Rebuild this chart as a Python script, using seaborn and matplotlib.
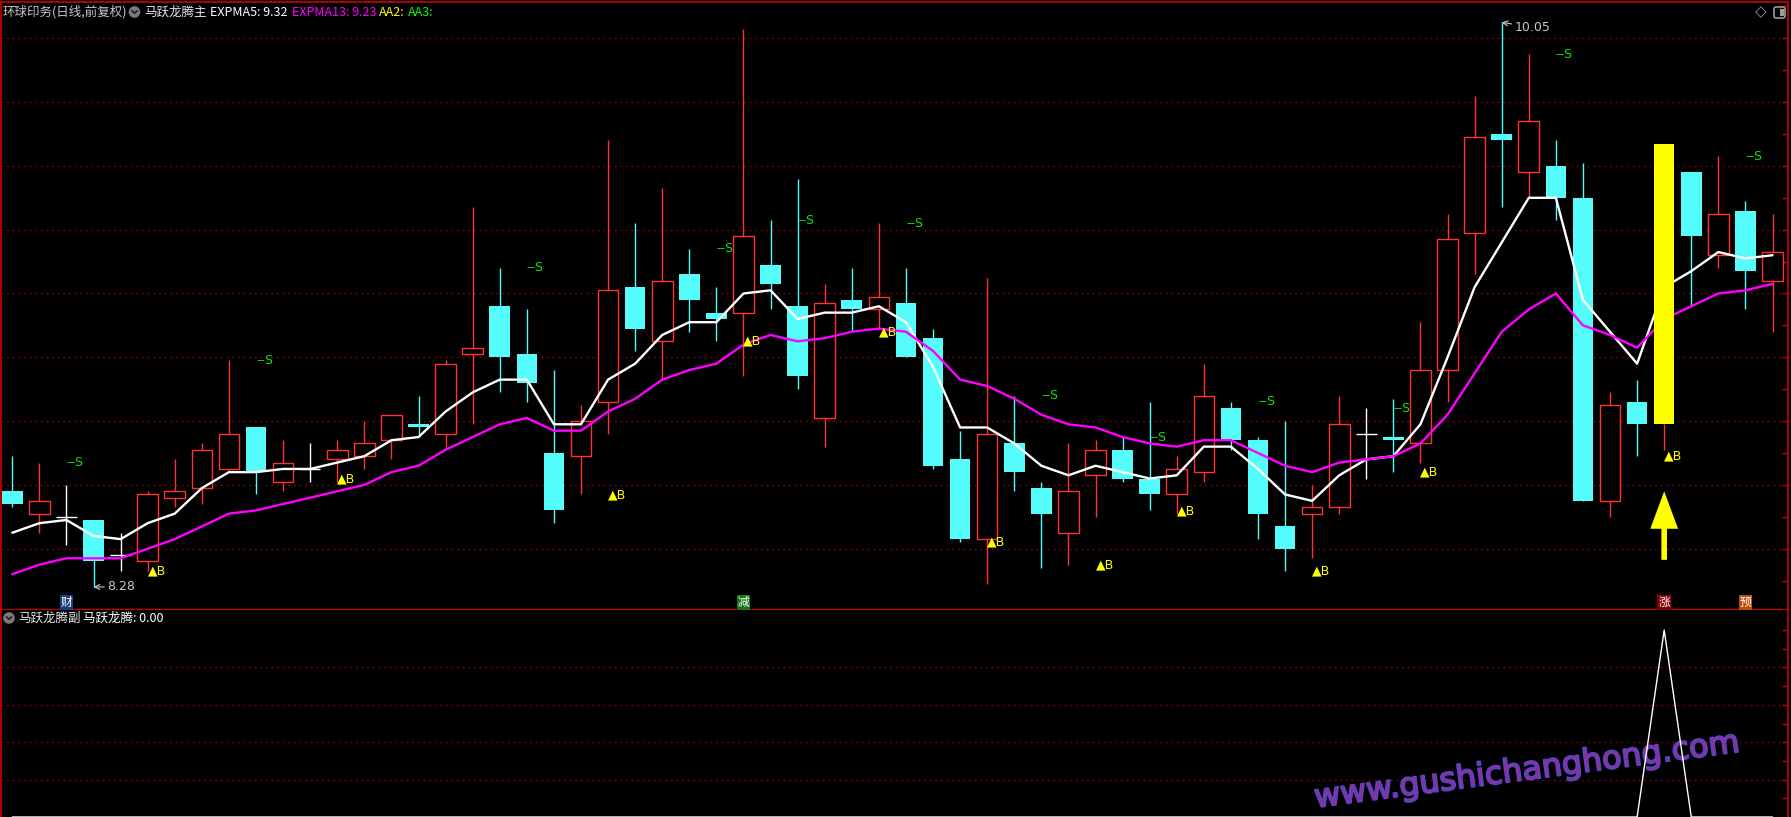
import numpy as np
import pandas as pd
import matplotlib.pyplot as plt
import matplotlib.patheffects as pe
import matplotlib.transforms as mtransforms
from matplotlib.patches import Circle, FancyBboxPatch, Rectangle
from matplotlib.lines import Line2D
import seaborn as sns

# 日线数据
open_ = [8.58, 8.51, 8.50, 8.49, 8.38, 8.36, 8.56, 8.59, 8.65, 8.78,
         8.61, 8.65, 8.68, 8.69, 8.74, 8.79, 8.76, 9.01, 9.16, 9.01,
         8.70, 8.69, 8.86, 9.22, 9.05, 9.26, 9.14, 9.14, 9.29, 9.16,
         8.81, 9.18, 9.15, 9.17, 9.06, 8.68, 8.43, 8.73, 8.59, 8.45,
         8.63, 8.71, 8.62, 8.57, 8.64, 8.84, 8.74, 8.47, 8.51, 8.53,
         8.76, 8.75, 8.73, 8.96, 9.39, 9.70, 9.58, 9.60, 9.50, 8.55,
         8.86, 8.79, 9.58, 9.32, 9.46, 9.24]
close = [8.54, 8.55, 8.50, 8.36, 8.38, 8.57, 8.58, 8.71, 8.76, 8.64,
         8.67, 8.65, 8.71, 8.73, 8.82, 8.78, 8.98, 9.03, 9.00, 8.92,
         8.52, 8.80, 9.21, 9.09, 9.24, 9.18, 9.12, 9.38, 9.23, 8.94,
         9.17, 9.15, 9.19, 9.00, 8.66, 8.43, 8.76, 8.64, 8.51, 8.58,
         8.71, 8.62, 8.57, 8.65, 8.88, 8.74, 8.51, 8.40, 8.53, 8.79,
         8.76, 8.74, 8.96, 9.37, 9.69, 9.68, 9.74, 9.50, 8.55, 8.85,
         8.79, 9.67, 9.38, 9.45, 9.27, 9.33]
high = [8.69, 8.67, 8.60, 8.49, 8.45, 8.58, 8.68, 8.73, 8.99, 8.78,
        8.74, 8.73, 8.74, 8.80, 8.82, 8.88, 8.99, 9.47, 9.28, 9.15,
        8.96, 8.85, 9.68, 9.42, 9.53, 9.34, 9.22, 10.03, 9.43, 9.56,
        9.23, 9.28, 9.42, 9.28, 9.09, 8.77, 9.25, 8.88, 8.61, 8.73,
        8.74, 8.75, 8.86, 8.69, 8.98, 8.86, 8.75, 8.80, 8.60, 8.88,
        8.84, 8.87, 9.11, 9.45, 9.82, 10.05, 9.95, 9.68, 9.61, 8.89,
        8.93, 9.67, 9.58, 9.63, 9.49, 9.45]
low = [8.53, 8.45, 8.41, 8.28, 8.33, 8.33, 8.53, 8.54, 8.64, 8.57,
       8.58, 8.61, 8.61, 8.65, 8.68, 8.75, 8.72, 8.79, 8.89, 8.86,
       8.48, 8.57, 8.76, 9.02, 8.93, 9.08, 9.05, 8.94, 9.15, 8.90,
       8.72, 9.08, 9.09, 9.00, 8.65, 8.42, 8.29, 8.58, 8.34, 8.35,
       8.50, 8.61, 8.52, 8.51, 8.61, 8.71, 8.43, 8.33, 8.37, 8.51,
       8.62, 8.64, 8.67, 8.86, 9.26, 9.47, 9.50, 9.43, 8.55, 8.50,
       8.69, 8.71, 9.16, 9.28, 9.15, 9.08]
expma5 = [8.45, 8.48, 8.49, 8.44, 8.43, 8.48, 8.51, 8.59, 8.64, 8.64,
          8.65, 8.65, 8.67, 8.69, 8.74, 8.75, 8.83, 8.89, 8.93, 8.93,
          8.79, 8.79, 8.93, 8.98, 9.07, 9.11, 9.11, 9.20, 9.21, 9.12,
          9.14, 9.14, 9.16, 9.11, 8.97, 8.78, 8.78, 8.73, 8.66, 8.63,
          8.66, 8.64, 8.62, 8.63, 8.72, 8.72, 8.65, 8.57, 8.55, 8.63,
          8.68, 8.69, 8.79, 9.00, 9.22, 9.36, 9.50, 9.50, 9.18, 9.08,
          8.98, 9.22, 9.27, 9.33, 9.31, 9.32]
expma13 = [8.32, 8.35, 8.37, 8.37, 8.37, 8.40, 8.43, 8.47, 8.51, 8.52,
           8.54, 8.56, 8.58, 8.60, 8.64, 8.66, 8.71, 8.75, 8.79, 8.81,
           8.77, 8.77, 8.83, 8.87, 8.93, 8.96, 8.98, 9.04, 9.07, 9.05,
           9.06, 9.08, 9.09, 9.08, 9.02, 8.93, 8.91, 8.87, 8.82, 8.79,
           8.78, 8.75, 8.73, 8.72, 8.74, 8.74, 8.70, 8.66, 8.64, 8.67,
           8.68, 8.69, 8.73, 8.82, 8.95, 9.08, 9.15, 9.20, 9.10, 9.07,
           9.03, 9.12, 9.16, 9.20, 9.21, 9.23]

# 买卖信号
b_idx = [5, 12, 22, 27, 32, 36, 40, 43, 48, 52, 61]
b_price = [8.33, 8.62, 8.57, 9.05, 9.08, 8.42, 8.35, 8.52, 8.33, 8.64, 8.69]
s_idx = [2, 9, 19, 26, 29, 33, 38, 42, 46, 51, 57, 64]
s_price = [8.67, 8.99, 9.28, 9.34, 9.43, 9.42, 8.88, 8.75, 8.86, 8.84, 9.95, 9.63]

# 底部标记
mark_idx = [2, 27, 61, 64]
mark_txt = ["财", "减", "涨", "预"]
mark_bg = ["#163f7c", "#18761a", "#8a0000", "#bf4a06"]

# 副图 马跃龙腾
myld = [0, 0, 0, 0, 0, 0, 0, 0, 0, 0,
        0, 0, 0, 0, 0, 0, 0, 0, 0, 0,
        0, 0, 0, 0, 0, 0, 0, 0, 0, 0,
        0, 0, 0, 0, 0, 0, 0, 0, 0, 0,
        0, 0, 0, 0, 0, 0, 0, 0, 0, 0,
        0, 0, 0, 0, 0, 0, 0, 0, 0, 0,
        0, 1, 0, 0, 0, 0]

sns.set_theme(style="dark", rc={"axes.facecolor": "black", "figure.facecolor": "black",
                                "axes.grid": False})
plt.rcParams['font.family'] = ['Noto Sans CJK SC', 'DejaVu Sans']
plt.rcParams['axes.unicode_minus'] = False

W, H = 1791, 817
fig = plt.figure(figsize=(W / 100, H / 100), dpi=100)
ax = fig.add_axes([1 / W, 1 - 610 / H, 1787 / W, 608 / H])
ax2 = fig.add_axes([1 / W, 0, 1787 / W, 207 / H])


def px(x, y):
    return x / W, 1 - y / H


df = pd.DataFrame({"o": open_, "h": high, "l": low, "c": close,
                   "e5": expma5, "e13": expma13, "v": myld})
df["i"] = np.arange(len(df))

RED = "#ff3232"
CYAN = "#54fcfc"
YEL = "#ffff00"
GRID = "#8b0000"
BORDER = "#cc0000"
bw = 0.76
sig = mark_idx[mark_txt.index("涨")]

for i, r in df.iterrows():
    top, bot = max(r.o, r.c), min(r.o, r.c)
    if i == sig:
        ax.vlines(i, r.l, bot, color=RED, lw=1, zorder=2)
        ax.bar(i, top - bot, bottom=bot, width=bw, color=YEL, lw=0, zorder=6)
    elif r.c > r.o:
        ax.vlines(i, top, r.h, color=RED, lw=1, zorder=2)
        ax.vlines(i, r.l, bot, color=RED, lw=1, zorder=2)
        ax.bar(i, top - bot, bottom=bot, width=bw, facecolor="black",
               edgecolor=RED, lw=1, zorder=2)
    elif r.c < r.o:
        ax.vlines(i, r.l, r.h, color=CYAN, lw=1, zorder=2)
        ax.bar(i, top - bot, bottom=bot, width=bw, color=CYAN, lw=0, zorder=2)
    else:
        ax.vlines(i, r.l, r.h, color="white", lw=1, zorder=2)
        ax.hlines(r.c, i - bw / 2, i + bw / 2, color="white", lw=1, zorder=2)

sns.lineplot(data=df, x="i", y="e5", ax=ax, color="white", lw=1.7, zorder=4)
sns.lineplot(data=df, x="i", y="e13", ax=ax, color="#ff00ff", lw=1.7, zorder=4)

for i, p in zip(b_idx, b_price):
    ax.text(i, p, "▲B", color=YEL, fontsize=9, ha="left", va="center",
            family="DejaVu Sans", zorder=7)
for i, p in zip(s_idx, s_price):
    ax.text(i, p, "--S", color="#10e010", fontsize=9, ha="left", va="center",
            family="DejaVu Sans", zorder=7)

# 最高最低价
hi = int(np.argmax(high))
lo = int(np.argmin(low))
ax.annotate(f"{high[hi]:.2f}", xy=(hi, high[hi]), xytext=(13, -5), textcoords="offset pixels",
            color="#c8c8c8", fontsize=9, ha="left", va="center", family="DejaVu Sans",
            arrowprops=dict(arrowstyle="->", color="#c8c8c8", lw=0.8, shrinkA=0, shrinkB=0))
ax.annotate(f"{low[lo]:.2f}", xy=(lo, low[lo]), xytext=(14, 0), textcoords="offset pixels",
            color="#c8c8c8", fontsize=9, ha="left", va="center", family="DejaVu Sans",
            arrowprops=dict(arrowstyle="->", color="#c8c8c8", lw=0.8, shrinkA=0, shrinkB=0))

# 黄色箭头
ax.annotate("", xy=(sig, low[sig] - 0.13), xytext=(sig, low[sig] - 0.345),
            arrowprops=dict(arrowstyle="simple,head_length=1.35,head_width=1.0,tail_width=0.2",
                            fc=YEL, ec=YEL, lw=0, mutation_scale=20, shrinkA=0, shrinkB=0),
            zorder=7)

trans = mtransforms.blended_transform_factory(ax.transData, ax.transAxes)
for i, t, bg in zip(mark_idx, mark_txt, mark_bg):
    ax.text(i, 0.0125, t, transform=trans, color="white", fontsize=8.5,
            ha="center", va="center", zorder=8,
            bbox=dict(boxstyle="square,pad=0.08", fc=bg, ec="none"))

ax.set_xlim(-0.4173, 65.572)
ax.set_ylim(8.2078, 10.1138)
for g in np.arange(8.4, 10.01, 0.2):
    ax.axhline(g, color=GRID, lw=0.9, ls=(0, (1.5, 3)), zorder=1)

# 副图
sns.lineplot(data=df, x="i", y="v", ax=ax2, color="white", lw=1, zorder=4)
ax2.set_xlim(-0.4173, 65.572)
ax2.set_ylim(0, 1.107)
for g in [0.2, 0.4, 0.6, 0.8]:
    ax2.axhline(g, color=GRID, lw=0.9, ls=(0, (1.5, 3)), zorder=1)
ax2.text(0.854, 0.222, "www.gushichanghong.com", transform=ax2.transAxes,
         rotation=7.5, rotation_mode="anchor", ha="center", va="center",
         fontsize=23, color="#86329f", family="DejaVu Sans", zorder=2,
         path_effects=[pe.withStroke(linewidth=1.4, foreground="#4a4ad6")])

for a, yt in ((ax, np.arange(8.3, 10.11, 0.1)), (ax2, np.arange(0.1, 1.01, 0.1))):
    a.set_xlabel("")
    a.set_ylabel("")
    a.set_xticks([])
    a.yaxis.tick_right()
    a.set_yticks(yt)
    a.tick_params(axis="y", direction="in", length=4, width=1, color=BORDER,
                  labelright=False, labelleft=False, left=False, right=True)
    for s in a.spines.values():
        s.set_color(BORDER)
        s.set_linewidth(1.2)
ax.spines["bottom"].set_linewidth(1.6)
ax2.spines["top"].set_visible(False)
ax2.spines["bottom"].set_visible(False)

# 标题栏
n = len(close) - 1
fig.text(*px(3, 12), "环球印务(日线,前复权)", color="#c8c8c8", fontsize=9, va="center")
fig.text(*px(144, 12), "马跃龙腾主", color="#e6e6e6", fontsize=9, va="center")
fig.text(*px(210, 12), f"EXPMA5: {expma5[n]:.2f}", color="white", fontsize=9, va="center")
fig.text(*px(292, 12), f"EXPMA13: {expma13[n]:.2f}", color="#ff00ff", fontsize=9, va="center")
fig.text(*px(379, 12), "AA2:", color=YEL, fontsize=9, va="center")
fig.text(*px(408, 12), "AA3:", color="#00ff00", fontsize=9, va="center")
fig.text(*px(18, 618), "马跃龙腾副", color="#e6e6e6", fontsize=9, va="center")
fig.text(*px(83, 618), f"马跃龙腾: {myld[n]:.2f}", color="white", fontsize=9, va="center")


def icon(x, y):
    tr = fig.dpi_scale_trans
    fig.add_artist(Circle((x / 100, (H - y) / 100), 0.058, transform=tr,
                          fc="#7a7a7a", ec="none"))
    xs = [(x - 2.5) / 100, x / 100, (x + 2.5) / 100]
    ys = [(H - y + 1.2) / 100, (H - y - 1.3) / 100, (H - y + 1.2) / 100]
    fig.add_artist(Line2D(xs, ys, transform=tr, color="#222222", lw=1.2))


icon(134.5, 12)
icon(9, 618)

fig.text(*px(1760.5, 12), "◇", color="#9a9a9a", fontsize=11, ha="center", va="center",
         family="DejaVu Sans")
tr = fig.dpi_scale_trans
fig.add_artist(FancyBboxPatch((1774 / 100, (H - 18) / 100), 0.11, 0.11,
                              boxstyle="round,pad=0,rounding_size=0.02", transform=tr,
                              fc="none", ec="#9a9a9a", lw=1.2))
fig.add_artist(Rectangle((1780 / 100, (H - 16) / 100), 0.035, 0.07, transform=tr,
                         fc="#9a9a9a", ec="none"))

fig.savefig("out.png", dpi=100, facecolor="black")
